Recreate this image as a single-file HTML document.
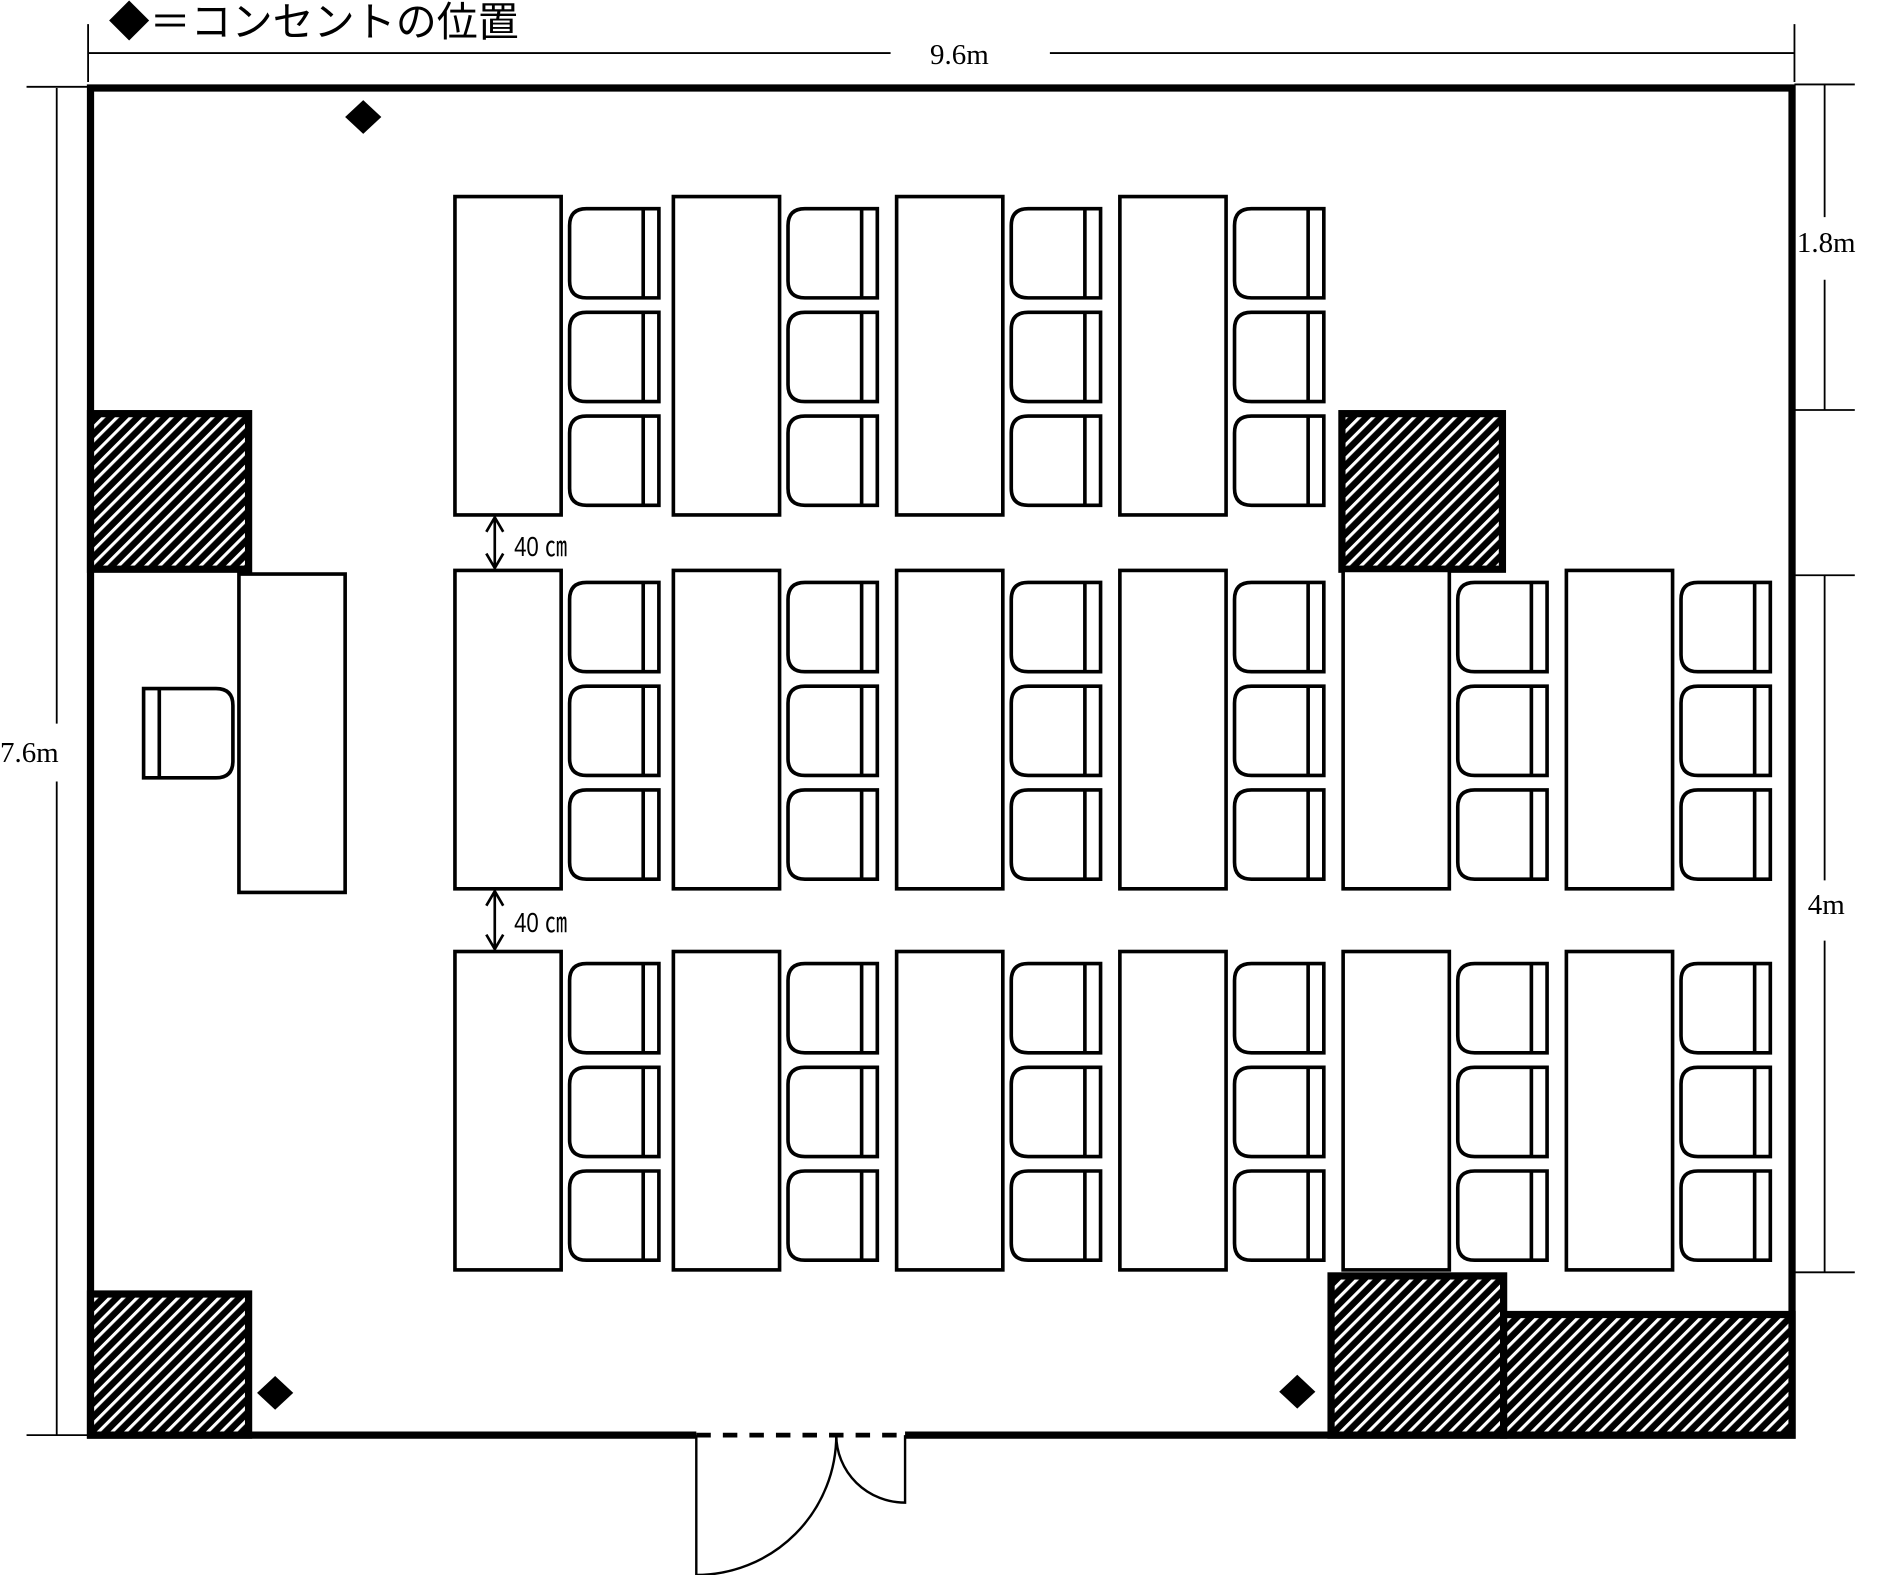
<!DOCTYPE html>
<html><head><meta charset="utf-8"><style>
html,body{margin:0;padding:0;background:#fff;}
svg{display:block;}
</style></head><body>
<svg width="1891" height="1575" viewBox="0 0 1567 1306" preserveAspectRatio="none" xmlns="http://www.w3.org/2000/svg">
<defs>
<pattern id="h" patternUnits="userSpaceOnUse" width="8" height="8" patternTransform="rotate(45)">
<rect width="8" height="8" fill="#000"/>
<rect x="0" y="0" width="2.6" height="8" fill="#fff"/>
</pattern>
<g id="chair">
<path d="M14,0 H74 V74 H14 Q0,74 0,60 V14 Q0,0 14,0 Z" fill="#fff" stroke="#000" stroke-width="3"/>
<line x1="61" y1="0" x2="61" y2="74" stroke="#000" stroke-width="3"/>
</g>
<g id="set">
<rect x="0" y="0" width="88" height="264" fill="#fff" stroke="#000" stroke-width="3"/>
<use href="#chair" x="95" y="10"/>
<use href="#chair" x="95" y="96"/>
<use href="#chair" x="95" y="182"/>
</g>
</defs>
<rect width="1567" height="1306" fill="#fff"/>
<text x="90" y="30" font-family="'Liberation Sans','Noto Sans CJK JP',sans-serif" font-size="34">◆＝コンセントの位置</text>
<g stroke="#000" stroke-width="1.5">
<line x1="73" y1="20" x2="73" y2="68"/><line x1="1487" y1="20" x2="1487" y2="68"/>
<line x1="73" y1="44" x2="738" y2="44"/><line x1="870" y1="44" x2="1487" y2="44"/>
<line x1="47" y1="73" x2="47" y2="600"/><line x1="47" y1="648" x2="47" y2="1190"/>
<line x1="22" y1="72" x2="75" y2="72"/><line x1="22" y1="1190" x2="75" y2="1190"/>
<line x1="1487" y1="70" x2="1537" y2="70"/><line x1="1512" y1="70" x2="1512" y2="180"/>
<line x1="1512" y1="232" x2="1512" y2="340"/><line x1="1487" y1="340" x2="1537" y2="340"/>
<line x1="1487" y1="477" x2="1537" y2="477"/><line x1="1512" y1="477" x2="1512" y2="730"/>
<line x1="1512" y1="780" x2="1512" y2="1055"/><line x1="1487" y1="1055" x2="1537" y2="1055"/>
</g>
<g font-family="'Liberation Serif',serif" font-size="24" fill="#000">
<text x="795" y="53" text-anchor="middle">9.6m</text>
<text x="0" y="632">7.6m</text>
<text x="1489" y="209">1.8m</text>
<text x="1498" y="758">4m</text>
</g>
<path d="M577,1190 H75 V73 H1485 V1190 H750" fill="none" stroke="#000" stroke-width="6"/>
<line x1="577" y1="1190" x2="750" y2="1190" stroke="#000" stroke-width="4" stroke-dasharray="12,10"/>
<g stroke="#000" stroke-width="6" fill="url(#h)">
<rect x="75" y="343" width="131" height="129"/>
<rect x="75" y="1073" width="131" height="117"/>
<rect x="1112" y="343" width="133" height="129"/>
<rect x="1103" y="1058" width="143" height="132"/>
<rect x="1246" y="1090" width="239" height="100"/>
</g>
<g fill="#000">
<path d="M301,83 L316,97 L301,111 L286,97Z"/>
<path d="M228,1141 L243,1155 L228,1169 L213,1155Z"/>
<path d="M1075,1140 L1090,1154 L1075,1168 L1060,1154Z"/>
</g>
<rect x="198" y="476" width="88" height="264" fill="#fff" stroke="#000" stroke-width="3"/>
<g transform="translate(193,571) scale(-1,1)"><use href="#chair"/></g>
<use href="#set" x="377" y="163"/><use href="#set" x="558" y="163"/><use href="#set" x="743" y="163"/><use href="#set" x="928" y="163"/>
<use href="#set" x="377" y="473"/><use href="#set" x="558" y="473"/><use href="#set" x="743" y="473"/><use href="#set" x="928" y="473"/><use href="#set" x="1113" y="473"/><use href="#set" x="1298" y="473"/>
<use href="#set" x="377" y="789"/><use href="#set" x="558" y="789"/><use href="#set" x="743" y="789"/><use href="#set" x="928" y="789"/><use href="#set" x="1113" y="789"/><use href="#set" x="1298" y="789"/>
<g stroke="#000" stroke-width="2.2" fill="none">
<line x1="410" y1="429" x2="410" y2="471"/><path d="M403,441 L410,429 L417,441 M403,459 L410,471 L417,459"/>
<line x1="410" y1="739" x2="410" y2="787"/><path d="M403,751 L410,739 L417,751 M403,775 L410,787 L417,775"/>
</g>
<g font-family="'Liberation Sans','Noto Sans CJK JP',sans-serif" font-size="23">
<text x="426" y="461" transform="translate(426,461) scale(0.8,1) translate(-426,-461)">40 ㎝</text>
<text x="426" y="773" transform="translate(426,773) scale(0.8,1) translate(-426,-773)">40 ㎝</text>
</g>
<g stroke="#000" stroke-width="2" fill="none">
<path d="M577,1190 V1306 A116,116 0 0 0 693,1190"/>
<path d="M750,1190 V1246 A57,56 0 0 1 693,1190"/>
</g>
</svg>
</body></html>
